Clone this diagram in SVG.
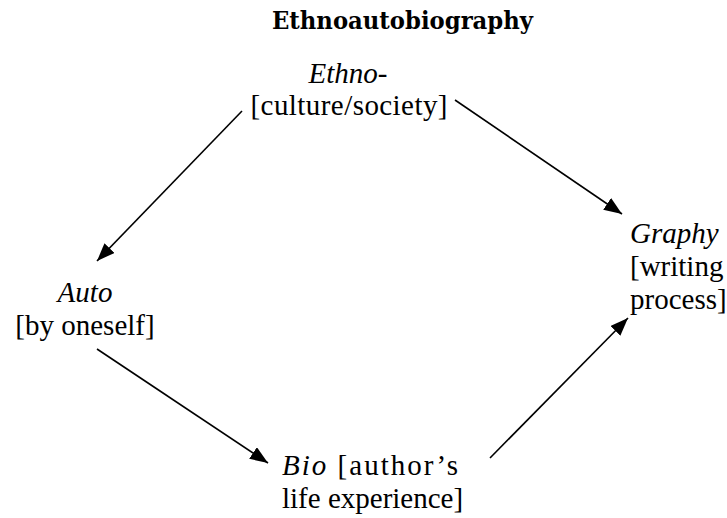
<svg xmlns="http://www.w3.org/2000/svg" width="727" height="518" viewBox="0 0 727 518">
<defs>
<style>
.t{font-family:'Liberation Serif','Times New Roman',serif;font-size:29px;fill:#000}
.i{font-style:italic}
.title{font-family:'DejaVu Serif',serif;font-weight:bold;font-size:24px;fill:#000}
.c{stroke:#000;stroke-width:1.6;fill:none}
</style>
<marker id="ah" markerUnits="userSpaceOnUse" markerWidth="20" markerHeight="16" refX="18" refY="7" orient="auto">
<path d="M0,0 L18,7 L0,14 z" fill="#000"/>
</marker>
</defs>
<rect width="727" height="518" fill="#fff"/>
<text class="title" x="272" y="29" textLength="261" lengthAdjust="spacingAndGlyphs">Ethnoautobiography</text>
<g id="ethno">
<text class="t i" x="348" y="83" text-anchor="middle">Ethno-</text>
<text class="t" x="349" y="115" text-anchor="middle" textLength="197">[culture/society]</text>
</g>
<g id="auto">
<text class="t i" x="85" y="302" text-anchor="middle">Auto</text>
<text class="t" x="85" y="335" text-anchor="middle">[by oneself]</text>
</g>
<g id="bio">
<text class="t" x="282" y="475" textLength="176" lengthAdjust="spacing"><tspan class="i">Bio</tspan> [author’s</text>
<text class="t" x="282" y="508">life experience]</text>
</g>
<g id="graphy">
<text class="t i" x="630" y="243">Graphy</text>
<text class="t" x="630" y="276">[writing</text>
<text class="t" x="630" y="309">process]</text>
</g>
<g id="connectors">
<line class="c" x1="242" y1="111" x2="97" y2="261" marker-end="url(#ah)"/>
<line class="c" x1="455" y1="100" x2="622" y2="214" marker-end="url(#ah)"/>
<line class="c" x1="97" y1="349" x2="268" y2="463" marker-end="url(#ah)"/>
<line class="c" x1="490" y1="458" x2="628" y2="318" marker-end="url(#ah)"/>
</g>
</svg>
